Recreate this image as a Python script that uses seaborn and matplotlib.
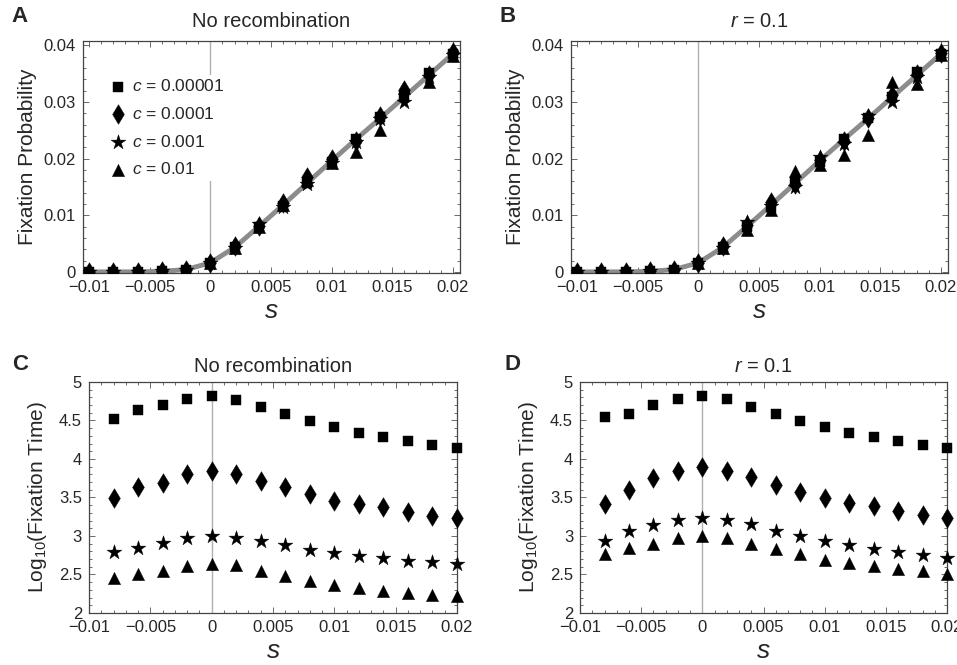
import matplotlib
matplotlib.use("Agg")
import matplotlib.pyplot as plt
import seaborn as sns
import pandas as pd
from matplotlib.ticker import FixedLocator, FixedFormatter, MultipleLocator

# ---------------- data ----------------
s_prob = [-0.010, -0.008, -0.006, -0.004, -0.002, 0.000, 0.002, 0.004,
          0.006, 0.008, 0.010, 0.012, 0.014, 0.016, 0.018, 0.020]
s_time = [-0.008, -0.006, -0.004, -0.002, 0.000, 0.002, 0.004, 0.006,
          0.008, 0.010, 0.012, 0.014, 0.016, 0.018, 0.020]

series_labels = ["c = 0.00001", "c = 0.0001", "c = 0.001", "c = 0.01"]

# theoretical curve (gray line), read at the same s values
curve_prob = [0.0000, 0.0000, 0.0000, 0.0001, 0.0004, 0.0016, 0.0043, 0.0080,
              0.0118, 0.0157, 0.0196, 0.0234, 0.0271, 0.0309, 0.0347, 0.0385]

# Panel A: fixation probability, no recombination
probA_c1e5 = [0.0000, 0.0000, 0.0000, 0.0001, 0.0003, 0.0016, 0.0044, 0.0080,
              0.0117, 0.0157, 0.0195, 0.0235, 0.0273, 0.0310, 0.0352, 0.0385]
probA_c1e4 = [0.0000, 0.0000, 0.0000, 0.0001, 0.0003, 0.0016, 0.0045, 0.0081,
              0.0121, 0.0167, 0.0200, 0.0232, 0.0276, 0.0322, 0.0347, 0.0388]
probA_c1e3 = [0.0000, 0.0000, 0.0000, 0.0001, 0.0003, 0.0015, 0.0043, 0.0085,
              0.0115, 0.0155, 0.0193, 0.0230, 0.0270, 0.0300, 0.0345, 0.0384]
probA_c1e2 = [0.0000, 0.0000, 0.0000, 0.0001, 0.0003, 0.0015, 0.0043, 0.0080,
              0.0118, 0.0162, 0.0193, 0.0212, 0.0250, 0.0325, 0.0336, 0.0382]

# Panel B: fixation probability, r = 0.1
probB_c1e5 = [0.0000, 0.0000, 0.0000, 0.0001, 0.0003, 0.0016, 0.0044, 0.0080,
              0.0115, 0.0159, 0.0194, 0.0234, 0.0271, 0.0309, 0.0353, 0.0385]
probB_c1e4 = [0.0000, 0.0000, 0.0000, 0.0001, 0.0003, 0.0016, 0.0045, 0.0082,
              0.0124, 0.0155, 0.0198, 0.0232, 0.0272, 0.0312, 0.0349, 0.0386]
probB_c1e3 = [0.0000, 0.0000, 0.0000, 0.0001, 0.0003, 0.0015, 0.0043, 0.0088,
              0.0117, 0.0150, 0.0203, 0.0226, 0.0276, 0.0300, 0.0344, 0.0388]
probB_c1e2 = [0.0000, 0.0000, 0.0000, 0.0001, 0.0003, 0.0015, 0.0043, 0.0074,
              0.0109, 0.0179, 0.0188, 0.0206, 0.0241, 0.0336, 0.0332, 0.0384]

# Panel C: log10 fixation time, no recombination
timeC_c1e5 = [4.52, 4.63, 4.70, 4.78, 4.82, 4.77, 4.68, 4.58, 4.49, 4.41, 4.34, 4.29, 4.23, 4.18, 4.14]
timeC_c1e4 = [3.49, 3.63, 3.69, 3.80, 3.84, 3.81, 3.72, 3.63, 3.54, 3.46, 3.42, 3.37, 3.31, 3.26, 3.23]
timeC_c1e3 = [2.79, 2.85, 2.91, 2.98, 3.00, 2.98, 2.93, 2.88, 2.82, 2.78, 2.74, 2.71, 2.68, 2.66, 2.63]
timeC_c1e2 = [2.45, 2.50, 2.55, 2.61, 2.63, 2.62, 2.55, 2.48, 2.42, 2.37, 2.33, 2.29, 2.26, 2.24, 2.22]

# Panel D: log10 fixation time, r = 0.1
timeD_c1e5 = [4.55, 4.59, 4.70, 4.78, 4.82, 4.78, 4.68, 4.59, 4.49, 4.42, 4.34, 4.29, 4.23, 4.18, 4.14]
timeD_c1e4 = [3.42, 3.60, 3.75, 3.84, 3.89, 3.84, 3.77, 3.66, 3.57, 3.49, 3.43, 3.39, 3.33, 3.27, 3.24]
timeD_c1e3 = [2.94, 3.06, 3.14, 3.21, 3.24, 3.21, 3.15, 3.06, 3.00, 2.93, 2.88, 2.83, 2.79, 2.75, 2.71]
timeD_c1e2 = [2.77, 2.85, 2.90, 2.97, 3.00, 2.97, 2.90, 2.83, 2.76, 2.69, 2.65, 2.61, 2.57, 2.55, 2.51]

x_ticks = [-0.01, -0.005, 0.0, 0.005, 0.01, 0.015, 0.02]
x_ticklabels = ["\u22120.01", "\u22120.005", "0", "0.005", "0.01", "0.015", "0.02"]
yprob_ticks = [0.0, 0.01, 0.02, 0.03, 0.04]
yprob_ticklabels = ["0", "0.01", "0.02", "0.03", "0.04"]
ytime_ticks = [2, 2.5, 3, 3.5, 4, 4.5, 5]
ytime_ticklabels = ["2", "2.5", "3", "3.5", "4", "4.5", "5"]

# ---------------- style ----------------
sns.set_theme(style="ticks")
plt.rcParams["font.family"] = ["Liberation Sans", "DejaVu Sans"]
plt.rcParams["mathtext.fontset"] = "custom"
plt.rcParams["mathtext.it"] = "Liberation Sans:italic"
plt.rcParams["mathtext.rm"] = "Liberation Sans"

markers = ["s", "d", "*", "^"]
msizes = [42, 100, 125, 78]

fig = plt.figure(figsize=(9.57, 6.65), dpi=100)
axA = fig.add_axes([0.0867, 0.5895, 0.394, 0.3489])
axB = fig.add_axes([0.5967, 0.5895, 0.394, 0.3489])
axC = fig.add_axes([0.0930, 0.0782, 0.3845, 0.3474])
axD = fig.add_axes([0.6061, 0.0782, 0.3835, 0.3474])


def style_axes(ax, yticks, yticklabels, yminor):
    ax.axvline(0, color="#b0b0b0", lw=1.0, zorder=1)
    ax.xaxis.set_major_locator(FixedLocator(x_ticks))
    ax.xaxis.set_major_formatter(FixedFormatter(x_ticklabels))
    ax.xaxis.set_minor_locator(MultipleLocator(0.001))
    ax.yaxis.set_major_locator(FixedLocator(yticks))
    ax.yaxis.set_major_formatter(FixedFormatter(yticklabels))
    ax.yaxis.set_minor_locator(MultipleLocator(yminor))
    ax.tick_params(which="both", direction="in", top=True, right=True,
                   color="#555555", width=0.6)
    ax.tick_params(which="major", length=4, labelsize=12, pad=5)
    ax.tick_params(axis="y", which="major", pad=5)
    ax.tick_params(which="minor", length=2)
    for sp in ax.spines.values():
        sp.set_color("#444444")
        sp.set_linewidth(0.9)
    ax.set_xlabel("$s$", fontsize=19, labelpad=3)


prob_panels = [
    (axA, [probA_c1e5, probA_c1e4, probA_c1e3, probA_c1e2], "No recombination", "A"),
    (axB, [probB_c1e5, probB_c1e4, probB_c1e3, probB_c1e2], "$r$ = 0.1", "B"),
]
for ax, series, title, letter in prob_panels:
    style_axes(ax, yprob_ticks, yprob_ticklabels, 0.002)
    sns.lineplot(x=s_prob, y=curve_prob, ax=ax, color="#8c8c8c", lw=3.5, zorder=2)
    for vals, lab, mk, ms in zip(series, series_labels, markers, msizes):
        df = pd.DataFrame({"s": s_prob, "p": vals})
        sns.scatterplot(data=df, x="s", y="p", ax=ax, marker=mk, s=ms,
                        color="black", edgecolor="black", linewidth=0.3,
                        zorder=3, label="$c$ = " + lab.split("= ")[1])
    ax.set_xlim(-0.0105, 0.0206)
    ax.set_ylim(-0.0002, 0.0408)
    ax.set_ylabel("Fixation Probability", fontsize=15, labelpad=5)
    ax.set_title(title, fontsize=14.5, pad=10)
    ax.text(-0.19, 1.06, letter, transform=ax.transAxes, fontsize=16,
            fontweight="bold", ha="left", va="bottom")

legA = axA.legend(loc="upper left", bbox_to_anchor=(0.055, 0.855), frameon=True,
                  fontsize=12.5, handletextpad=0.25, labelspacing=0.68,
                  borderpad=0.2, handlelength=1.2, borderaxespad=0)
legA.get_frame().set_edgecolor("none")
legA.get_frame().set_facecolor("white")
legA.get_frame().set_alpha(1.0)
legA.set_zorder(5)
axB.get_legend().remove()

time_panels = [
    (axC, [timeC_c1e5, timeC_c1e4, timeC_c1e3, timeC_c1e2], "No recombination", "C"),
    (axD, [timeD_c1e5, timeD_c1e4, timeD_c1e3, timeD_c1e2], "$r$ = 0.1", "D"),
]
for ax, series, title, letter in time_panels:
    style_axes(ax, ytime_ticks, ytime_ticklabels, 0.1)
    for vals, lab, mk, ms in zip(series, series_labels, markers, msizes):
        df = pd.DataFrame({"s": s_time, "t": vals})
        sns.scatterplot(data=df, x="s", y="t", ax=ax, marker=mk, s=ms,
                        color="black", edgecolor="black", linewidth=0.3,
                        zorder=3, legend=False, clip_on=False)
    ax.set_xlim(-0.01, 0.02)
    ax.set_ylim(2, 5)
    ax.set_ylabel("Log$_{\\mathregular{10}}$(Fixation Time)", fontsize=15, labelpad=7)
    ax.set_title(title, fontsize=14.5, pad=7)
    ax.text(-0.21 if letter == "C" else -0.205, 1.03, letter, transform=ax.transAxes,
            fontsize=16, fontweight="bold", ha="left", va="bottom")

fig.savefig("out.png", dpi=100)
